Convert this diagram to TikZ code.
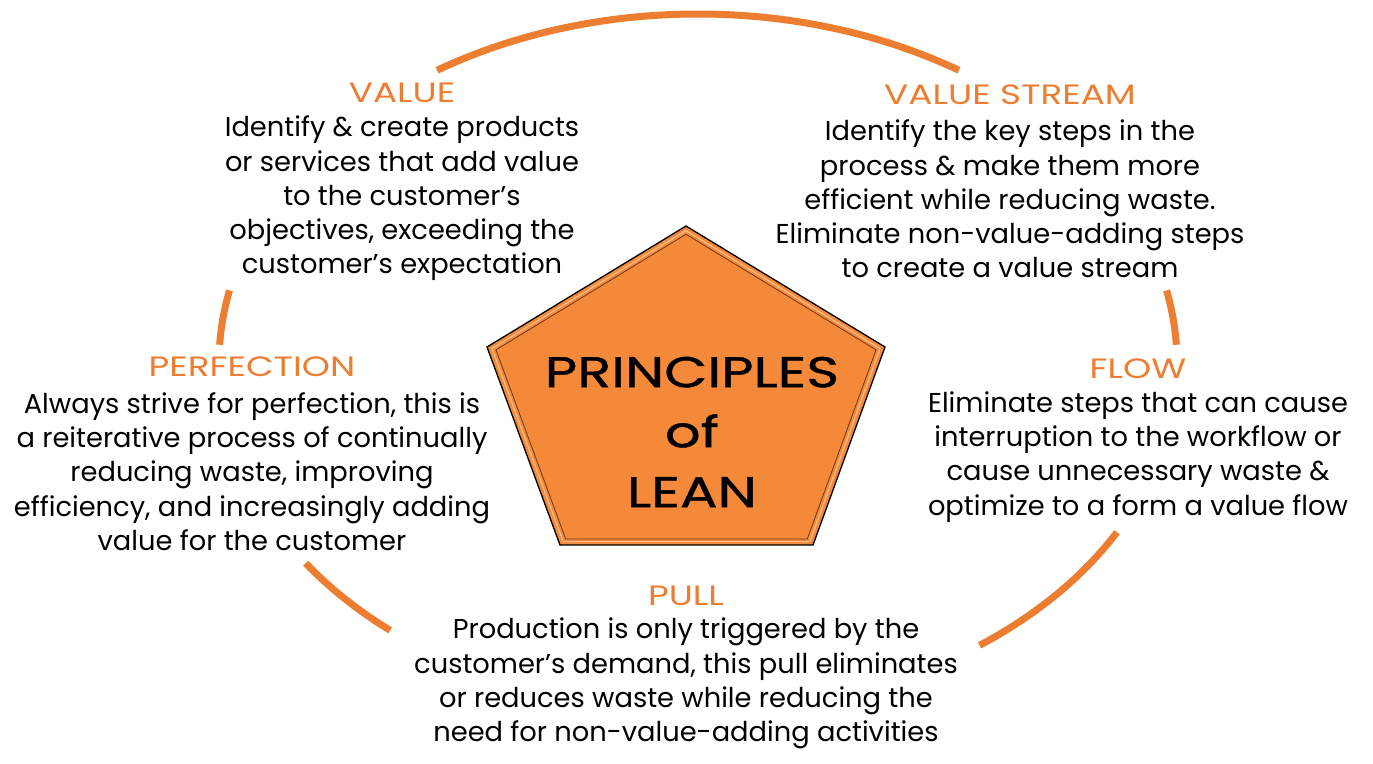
\documentclass[tikz,border=0pt]{standalone}
\usepackage{fontspec}
\usetikzlibrary{calc}
\setmainfont{Poppins}
\newfontfamily\widefont{Poppins}[FakeStretch=1.28]
\newfontfamily\widebold{Poppins}[FakeStretch=1.3,FakeBold=1]
\definecolor{lorange}{RGB}{237,125,49}
\definecolor{pfill}{RGB}{245,137,58}
\definecolor{pdark}{RGB}{110,55,20}
\definecolor{plight}{RGB}{250,190,140}
\begin{document}
\begin{tikzpicture}[x=1pt,y=-1pt,
  ring/.style={draw=lorange,line width=7pt},
  ttl/.style={text=lorange,font=\widefont\fontsize{28}{32}\selectfont,inner sep=0pt},
  body/.style={align=center,font=\fontsize{27.3}{34.3}\selectfont,inner sep=0pt},
  ctext/.style={align=center,font=\widebold\fontsize{43}{60}\selectfont,inner sep=0pt}]
\useasboundingbox (0,0) rectangle (1373,763);
% ring arcs (centre 698,363; radii 479 x 349)
\coordinate (rc) at (698,363);
\draw[ring] (rc) ++(237:479 and 349) arc[start angle=237,end angle=303,x radius=479,y radius=349];
\draw[ring] (rc) ++(-12:479 and 349) arc[start angle=-12,end angle=-3,x radius=479,y radius=349];
\draw[ring] (rc) ++(29:479 and 349) arc[start angle=29,end angle=54,x radius=479,y radius=349];
\draw[ring] (rc) ++(130:479 and 349) arc[start angle=130,end angle=145,x radius=479,y radius=349];
\draw[ring] (rc) ++(183:479 and 349) arc[start angle=183,end angle=192,x radius=479,y radius=349];
% pentagon
\coordinate (p1) at (686,226);
\coordinate (p2) at (885,347);
\coordinate (p3) at (813,545);
\coordinate (p4) at (560,545);
\coordinate (p5) at (487,347);
\coordinate (pc) at (686,410);
\fill[pfill,draw=black,line width=1.3pt,line join=miter] (p1)--(p2)--(p3)--(p4)--(p5)--cycle;
\draw[plight,line width=1.2pt] ($(pc)!0.975!(p1)$)--($(pc)!0.975!(p2)$)--($(pc)!0.975!(p3)$)--($(pc)!0.975!(p4)$)--($(pc)!0.975!(p5)$)--cycle;
\draw[pdark,line width=0.8pt] ($(pc)!0.955!(p1)$)--($(pc)!0.955!(p2)$)--($(pc)!0.955!(p3)$)--($(pc)!0.955!(p4)$)--($(pc)!0.955!(p5)$)--cycle;
\node[ctext] (centre) at (692,432) {PRINCIPLES\\of\\LEAN};
% VALUE
\node[ttl] (t1) at (402,93) {VALUE};
\node[body] (b1) at (402,198.5) {Identify \& create products\\or services that add value\\to the customer’s\\objectives, exceeding the\\customer’s expectation};
% VALUE STREAM
\node[ttl] (t2) at (1010,95) {VALUE STREAM};
\node[body] (b2) at (1010,199) {Identify the key steps in the\\process \& make them more\\efficient while reducing waste.\\Eliminate non-value-adding steps\\to create a value stream};
% PERFECTION
\node[ttl] (t3) at (252,367) {PERFECTION};
\node[body] (b3) at (252,471.5) {Always strive for perfection, this is\\a reiterative process of continually\\reducing waste, improving\\efficiency, and increasingly adding\\value for the customer};
% FLOW
\node[ttl] (t4) at (1138,369) {FLOW};
\node[body] (b4) at (1138,457) {Eliminate steps that can cause\\interruption to the workflow or\\cause unnecessary waste \&\\optimize to a form a value flow};
% PULL
\node[ttl] (t5) at (686,596) {PULL};
\node[body] (b5) at (686,683.5) {Production is only triggered by the\\customer’s demand, this pull eliminates\\or reduces waste while reducing the\\need for non-value-adding activities};
\end{tikzpicture}
\end{document}
